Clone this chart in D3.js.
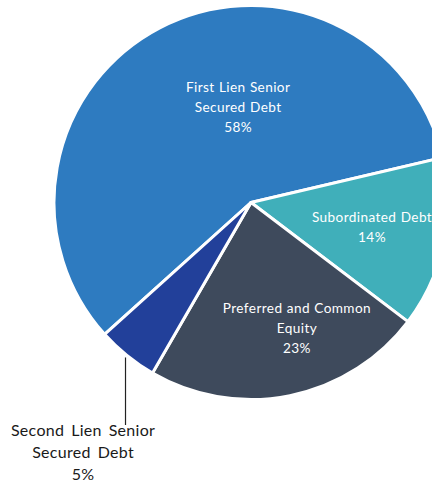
<!DOCTYPE html>
<html>
<head>
<meta charset="utf-8">
<script src="https://cdn.jsdelivr.net/npm/d3@7"></script>
<style>
  html, body { margin: 0; padding: 0; background: #fff; }
  svg { display: block; }
  text { font-family: Lato, "Open Sans", sans-serif; }
</style>
</head>
<body>
<svg id="chart" width="432" height="486"></svg>
<script>
// Portfolio composition by investment type (percent of total)
const categories = [
  "First Lien Senior Secured Debt",
  "Subordinated Debt",
  "Preferred and Common Equity",
  "Second Lien Senior Secured Debt"
];
const values = [58, 14, 23, 5];
const labelLines = [
  ["First Lien Senior", "Secured Debt"],
  ["Subordinated Debt"],
  ["Preferred and Common", "Equity"],
  ["Second Lien Senior", "Secured Debt"]
];
const colors = ["#2E7BC0", "#40AFBA", "#3E4A5C", "#22409A"];

const width = 432, height = 486;
const cx = 251, cy = 202.5, radius = 197;

// Label anchors, in units of the radius, relative to the pie centre
const labelOffsets = [
  [-0.066, -0.488],
  [0.619, 0.125],
  [0.235, 0.642],
  [-0.859, 1.276]
];
const outside = [false, false, false, true];

const svg = d3.select("#chart");
const g = svg.append("g").attr("transform", `translate(${cx},${cy})`);

const data = categories.map((c, i) => ({ name: c, value: values[i], i }));

const pie = d3.pie()
  .value(d => d.value)
  .sort(null)
  .startAngle(-132 * Math.PI / 180)
  .endAngle(228 * Math.PI / 180);

const arc = d3.arc().innerRadius(0).outerRadius(radius);
const arcs = pie(data);

g.selectAll("path.slice")
  .data(arcs)
  .join("path")
  .attr("class", "slice")
  .attr("d", arc)
  .attr("fill", d => colors[d.data.i])
  .attr("stroke", "#fff")
  .attr("stroke-width", 3)
  .attr("stroke-linejoin", "round");

// Leader line for the small slice whose label sits outside
const r0 = radius - 1.5;
arcs.filter(d => outside[d.data.i]).forEach(d => {
  const mid = (d.startAngle + d.endAngle) / 2;
  const x0 = Math.sin(mid) * r0 * 1.02;
  const y0 = -Math.cos(mid) * r0 * 1.02;
  g.append("line")
    .attr("x1", x0).attr("y1", y0)
    .attr("x2", x0).attr("y2", 1.138 * r0)
    .attr("stroke", "#222")
    .attr("stroke-width", 1.2);
});

// Slice labels: name lines followed by the percentage
arcs.forEach(d => {
  const i = d.data.i;
  const lines = labelLines[i].concat([d3.format(".0f")(d.data.value) + "%"]);
  const isOut = outside[i];
  const fs = isOut ? 16 : 13.6;
  const lh = isOut ? 22 : 19.8;
  const x = labelOffsets[i][0] * r0;
  const y = labelOffsets[i][1] * r0;
  const t = g.append("text")
    .attr("text-anchor", "middle")
    .attr("font-size", fs)
    .attr("letter-spacing", isOut ? 0.3 : 0.4)
    .attr("word-spacing", isOut ? 2.5 : 0.5)
    .attr("fill", isOut ? "#1a1a1a" : "#ffffff");
  lines.forEach((ln, k) => {
    t.append("tspan")
      .attr("x", x)
      .attr("y", y + (k - (lines.length - 1) / 2) * lh)
      .attr("dominant-baseline", "central")
      .text(ln);
  });
});
</script>
</body>
</html>
